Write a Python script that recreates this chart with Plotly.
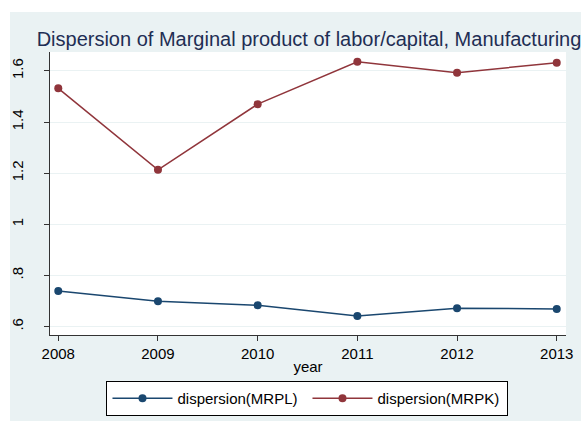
import plotly.graph_objects as go

years = [2008, 2009, 2010, 2011, 2012, 2013]
mrpl = [0.739, 0.699, 0.683, 0.641, 0.672, 0.669]
mrpk = [1.532, 1.213, 1.470, 1.636, 1.593, 1.632]
ytick_vals = [0.6, 0.8, 1.0, 1.2, 1.4, 1.6]
ytick_text = [".6", ".8", "1", "1.2", "1.4", "1.6"]

navy = "#1A476F"
maroon = "#90353B"
bg = "#EAF2F3"

fig = go.Figure()
fig.add_trace(go.Scatter(x=years, y=mrpl, mode="lines+markers", name="dispersion(MRPL)",
                         line=dict(color=navy, width=1.5), marker=dict(color=navy, size=8)))
fig.add_trace(go.Scatter(x=years, y=mrpk, mode="lines+markers", name="dispersion(MRPK)",
                         line=dict(color=maroon, width=1.5), marker=dict(color=maroon, size=8)))

L, R, T, B = 50, 19, 52, 86
W, H = 585, 421
pw, ph = W - L - R, H - T - B

fig.update_layout(
    width=W, height=H,
    margin=dict(l=L, r=R, t=T, b=B, autoexpand=False),
    paper_bgcolor="white", plot_bgcolor="white",
    font=dict(family="Liberation Sans, Arial, sans-serif", color="black", size=15),
    title=dict(text="Dispersion of Marginal product of labor/capital, Manufacturing",
               x=309 / W, xanchor="center", y=1 - 39 / H, yanchor="middle", yref="container",
               font=dict(size=20, color="#1F2E54")),
    showlegend=True,
    legend=dict(orientation="h", x=0.499, xanchor="center", y=(335 - 381) / ph, yanchor="top",
                bgcolor="white", bordercolor="black", borderwidth=1,
                font=dict(size=15), entrywidth=125, entrywidthmode="pixels",
                itemwidth=60),
    shapes=[
        dict(type="rect", xref="paper", yref="paper",
             x0=(10 - L) / pw, x1=(581 - L) / pw, y0=(T + ph - H) / ph, y1=(T + ph - 12) / ph,
             fillcolor=bg, line=dict(width=0), layer="below"),
        dict(type="rect", xref="paper", yref="paper", x0=0, x1=1, y0=0, y1=1,
             fillcolor="white", line=dict(width=0), layer="below"),
    ],
)
fig.update_xaxes(range=[2007.917, 2013.093], tickvals=years, ticks="outside", ticklen=5,
                 tickcolor="#333", showline=True, linecolor="#333", linewidth=1,
                 showgrid=False, zeroline=False, automargin=False,
                 title=dict(text="year", standoff=0, font=dict(size=15)),
                 tickfont=dict(size=15))
fig.update_yaxes(range=[0.567, 1.674], tickvals=ytick_vals, ticktext=ytick_text,
                 tickangle=-90, ticks="outside", ticklen=5, tickcolor="#333",
                 showline=True, linecolor="#333", linewidth=1, automargin=False,
                 showgrid=True, gridcolor=bg, gridwidth=1, zeroline=False,
                 ticklabelstandoff=15, tickfont=dict(size=15))

fig.write_html("out.html", config={"displayModeBar": False},
               post_script="document.body.style.margin='0px';")
